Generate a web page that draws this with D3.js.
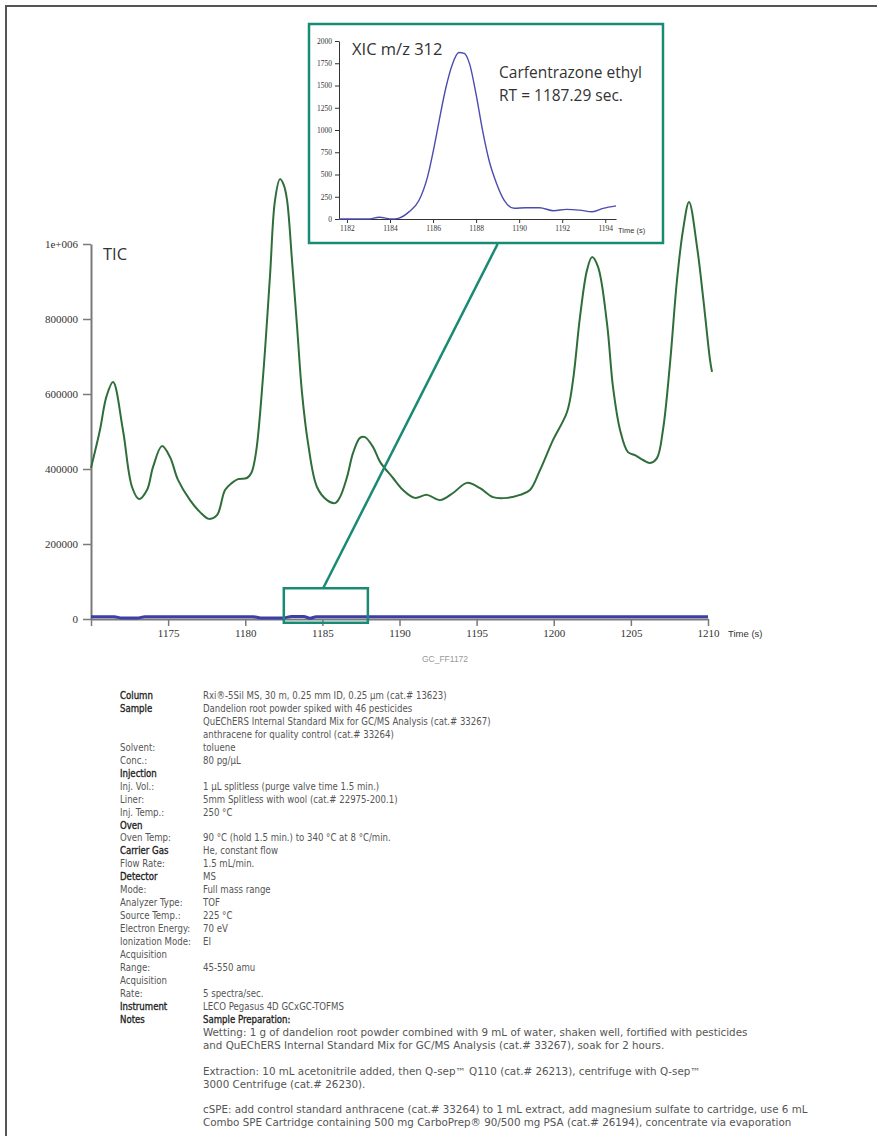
<!DOCTYPE html>
<html lang="en">
<head>
<meta charset="utf-8">
<title>TIC and XIC m/z 312 - Carfentrazone ethyl</title>
<style>
  body { margin: 0; background: #fff; }
  svg { display: block; }
  .tick text { font-family: "Liberation Serif", serif; fill: #333; }
  .note { font-family: "Liberation Sans Narrow", "DejaVu Sans Condensed", sans-serif; font-size: 10px; }
</style>
</head>
<body>
<div id="chart"></div>
<script src="https://d3js.org/d3.v7.min.js"></script>
<script>
var w = 877, h = 1136;

// TIC trace (green)
var ticTime = [1170.0, 1170.58, 1171.0, 1171.43, 1172.07, 1172.66, 1173.11, 1173.63, 1174.02, 1174.6,
  1175.12, 1175.64, 1176.42, 1177.07, 1177.65, 1178.17, 1178.69, 1179.14, 1179.53, 1180.11, 1180.4,
  1180.7, 1181.15, 1181.6, 1181.93, 1182.25, 1182.5, 1182.71, 1183.03, 1183.36, 1183.68, 1184.07,
  1184.65, 1185.3, 1185.82, 1186.14, 1186.6, 1186.99, 1187.44, 1187.76, 1188.28, 1188.74, 1189.58,
  1190.23, 1191.0, 1191.78, 1192.63, 1193.47, 1194.38, 1195.22, 1196.06, 1196.97, 1197.81, 1198.46,
  1199.11, 1199.95, 1200.86, 1201.25, 1201.7, 1202.16, 1202.48, 1202.87, 1203.45, 1203.84, 1204.3,
  1204.81, 1205.27, 1205.79, 1206.24, 1206.69, 1207.08, 1207.54, 1207.99, 1208.38, 1208.77, 1209.29,
  1209.68, 1210.13, 1210.26];
var ticValue = [403000, 504000, 593000, 632000, 504000, 352000, 320000, 344000, 405000, 461000,
  432000, 371000, 317000, 285000, 267000, 277000, 344000, 363000, 373000, 376000, 390000,
  445000, 645000, 912000, 1117000, 1173000, 1157000, 1117000, 957000, 779000, 603000, 469000,
  352000, 317000, 309000, 325000, 379000, 443000, 483000, 485000, 459000, 419000, 376000,
  344000, 323000, 331000, 317000, 336000, 363000, 349000, 325000, 323000, 331000, 344000,
  397000, 477000, 552000, 637000, 805000, 931000, 965000, 939000, 789000, 619000, 504000,
  445000, 437000, 424000, 416000, 429000, 504000, 683000, 904000, 1037000, 1112000, 992000,
  859000, 691000, 659000];

// XIC trace on the TIC scale (blue, near zero)
var baseTime = [1170, 1171.5, 1172, 1173, 1173.5, 1180.5, 1181, 1182.5, 1183, 1183.8, 1184.2, 1184.6, 1210];
var baseValue = [6000, 6000, 2500, 2500, 6000, 6000, 3000, 3000, 7000, 7000, 2000, 6000, 6000];

// XIC m/z 312 inset
var xicTime = [1181.63, 1183.0, 1183.5, 1184.1, 1184.42, 1184.88, 1185.35, 1185.74, 1186.05, 1186.28,
  1186.6, 1186.9, 1187.2, 1187.45, 1187.7, 1188.0, 1188.3, 1188.6, 1188.95, 1189.3, 1189.77,
  1190.3, 1190.95, 1191.6, 1192.2, 1192.8, 1193.4, 1193.9, 1194.5];
var xicValue = [0, 0, 20, 0, 10, 80, 210, 470, 810, 1100,
  1480, 1740, 1870, 1860, 1740, 1400, 995, 660, 400, 212, 120,
  126, 126, 93, 108, 100, 82, 120, 148];

var mainXTicks = [1170, 1175, 1180, 1185, 1190, 1195, 1200, 1205, 1210];
var mainYTicks = [0, 200000, 400000, 600000, 800000, 1000000];
var xicXTicks = [1182, 1184, 1186, 1188, 1190, 1192, 1194];
var xicYTicks = [0, 250, 500, 750, 1000, 1250, 1500, 1750, 2000];

// zoomed window shown on the TIC (time range, signal range)
var zoomTime = [1182.5, 1187.95];
var zoomValue = [-10000, 82000];

// label, value, kind (1 = heading label, 2 = heading label and value)
var methodRows = [
  ["Column", "Rxi\u00AE-5Sil MS, 30 m, 0.25 mm ID, 0.25 \u00B5m (cat.# 13623)", 1],
  ["Sample", "Dandelion root powder spiked with 46 pesticides", 1],
  ["", "QuEChERS Internal Standard Mix for GC/MS Analysis (cat.# 33267)", 0],
  ["", "anthracene for quality control (cat.# 33264)", 0],
  ["Solvent:", "toluene", 0],
  ["Conc.:", "80 pg/\u00B5L", 0],
  ["Injection", "", 1],
  ["Inj. Vol.:", "1 \u00B5L splitless (purge valve time 1.5 min.)", 0],
  ["Liner:", "5mm Splitless with wool (cat.# 22975-200.1)", 0],
  ["Inj. Temp.:", "250 \u00B0C", 0],
  ["Oven", "", 1],
  ["Oven Temp:", "90 \u00B0C (hold 1.5 min.) to 340 \u00B0C at 8 \u00B0C/min.", 0],
  ["Carrier Gas", "He, constant flow", 1],
  ["Flow Rate:", "1.5 mL/min.", 0],
  ["Detector", "MS", 1],
  ["Mode:", "Full mass range", 0],
  ["Analyzer Type:", "TOF", 0],
  ["Source Temp.:", "225 \u00B0C", 0],
  ["Electron Energy:", "70 eV", 0],
  ["Ionization Mode:", "EI", 0],
  ["Acquisition", "", 0],
  ["Range:", "45-550 amu", 0],
  ["Acquisition", "", 0],
  ["Rate:", "5 spectra/sec.", 0],
  ["Instrument", "LECO Pegasus 4D GCxGC-TOFMS", 1],
  ["Notes", "Sample Preparation:", 2]
];
var prepLines = [
  "Wetting: 1 g of dandelion root powder combined with 9 mL of water, shaken well, fortified with pesticides",
  "and QuEChERS Internal Standard Mix for GC/MS Analysis (cat.# 33267), soak for 2 hours.",
  "",
  "Extraction: 10 mL acetonitrile added, then Q-sep\u2122 Q110 (cat.# 26213), centrifuge with Q-sep\u2122",
  "3000 Centrifuge (cat.# 26230).",
  "",
  "cSPE: add control standard anthracene (cat.# 33264) to 1 mL extract, add magnesium sulfate to cartridge, use 6 mL",
  "Combo SPE Cartridge containing 500 mg CarboPrep\u00AE 90/500 mg PSA (cat.# 26194), concentrate via evaporation"
];

var teal = '#198a74';
var green = '#2f6e3a';
var blue = '#3d3fa6';

var svg = d3.select('#chart').append('svg')
  .attr('width', w).attr('height', h);

// page frame (top and left)
svg.append('path')
  .attr('d', 'M6,' + h + 'V6H' + w)
  .attr('fill', 'none').attr('stroke', '#555').attr('stroke-width', 2);

// ---------- main TIC chart ----------
var xScale = d3.scaleLinear().domain([1170, 1210]).range([91, 708]);
var yScale = d3.scaleLinear().domain([0, 1000000]).range([619, 244]);

var yAxis = d3.axisLeft(yScale).tickValues(mainYTicks).tickSize(8).tickSizeOuter(0)
  .tickFormat(d => d === 1000000 ? '1e+006' : d3.format('d')(d));
var xAxis = d3.axisBottom(xScale).tickValues(mainXTicks).tickSize(7).tickSizeOuter(0)
  .tickFormat(d => d === 1170 ? '' : d);

var gy = svg.append('g').attr('transform', 'translate(91,0)').call(yAxis);
var gx = svg.append('g').attr('transform', 'translate(0,619)').call(xAxis);
[gx, gy].forEach(g => {
  g.selectAll('path.domain').attr('stroke', '#7a7a7a').attr('stroke-width', 2);
  g.selectAll('.tick line').attr('stroke', '#7a7a7a').attr('stroke-width', 1.5);
  g.selectAll('.tick text').style('font-size', '11px');
});
gy.selectAll('.tick text').attr('x', -13);
gx.selectAll('.tick text').attr('y', 10);

svg.append('text').attr('x', 728).attr('y', 637)
  .style('font-family', '"Liberation Sans Narrow", sans-serif').style('font-size', '9.5px')
  .attr('fill', '#333').text('Time (s)');

svg.append('text').attr('x', 103).attr('y', 260)
  .style('font-family', '"Open Sans", sans-serif').style('font-size', '16.5px')
  .attr('fill', '#333').text('TIC');

var mainLine = d3.line().x(d => xScale(d[0])).y(d => yScale(d[1])).curve(d3.curveCatmullRom.alpha(0.5));

svg.append('path')
  .datum(d3.zip(baseTime, baseValue))
  .attr('d', d3.line().x(d => xScale(d[0])).y(d => yScale(d[1])).curve(d3.curveMonotoneX))
  .attr('fill', 'none')
  .attr('stroke', blue).attr('stroke-width', 3);

svg.append('path')
  .datum(d3.zip(ticTime, ticValue))
  .attr('d', mainLine).attr('fill', 'none')
  .attr('stroke', green).attr('stroke-width', 2);

svg.append('text').attr('x', 445).attr('y', 662).attr('text-anchor', 'middle')
  .style('font-family', '"Liberation Sans Narrow", sans-serif').style('font-size', '8.5px')
  .attr('fill', '#999').text('GC_FF1172');

// ---------- inset XIC ----------
var ix = d3.scaleLinear().domain([1181.63, 1194.5]).range([339, 616]);
var iy = d3.scaleLinear().domain([0, 2000]).range([219, 41]);

// zoom window and connector
svg.append('rect')
  .attr('x', xScale(zoomTime[0])).attr('y', yScale(zoomValue[1]))
  .attr('width', xScale(zoomTime[1]) - xScale(zoomTime[0]))
  .attr('height', yScale(zoomValue[0]) - yScale(zoomValue[1]))
  .attr('fill', 'none').attr('stroke', teal).attr('stroke-width', 2.5);

svg.append('line')
  .attr('x1', ix(1189)).attr('y1', 244)
  .attr('x2', xScale(1185.05)).attr('y2', yScale(zoomValue[1]))
  .attr('stroke', teal).attr('stroke-width', 2.5);

svg.append('rect')
  .attr('x', 309).attr('y', 24).attr('width', 354).attr('height', 219)
  .attr('fill', '#fff').attr('stroke', teal).attr('stroke-width', 2.5);

var igy = svg.append('g').attr('transform', 'translate(339,0)')
  .call(d3.axisLeft(iy).tickValues(xicYTicks).tickSize(4).tickSizeOuter(0).tickFormat(d3.format('d')));
var igx = svg.append('g').attr('transform', 'translate(0,219)')
  .call(d3.axisBottom(ix).tickValues(xicXTicks).tickSize(4).tickSizeOuter(0).tickFormat(d3.format('d')));
[igx, igy].forEach(g => {
  g.selectAll('path.domain').attr('stroke', '#333').attr('stroke-width', 1);
  g.selectAll('.tick line').attr('stroke', '#333');
  g.selectAll('.tick text').style('font-size', '7.5px');
});
igy.selectAll('.tick text').attr('x', -7);
igx.selectAll('.tick text').attr('y', 7);

svg.append('text').attr('x', 618).attr('y', 233)
  .style('font-family', '"Liberation Sans Narrow", sans-serif').style('font-size', '7.5px')
  .attr('fill', '#333').text('Time (s)');

svg.append('path')
  .datum(d3.zip(xicTime, xicValue))
  .attr('d', d3.line().x(d => ix(d[0])).y(d => iy(d[1])).curve(d3.curveMonotoneX))
  .attr('fill', 'none').attr('stroke', '#4a4cb0').attr('stroke-width', 1.4);

var insetFont = '"Open Sans", sans-serif';
svg.append('text').attr('x', 352).attr('y', 55)
  .style('font-family', insetFont).style('font-size', '16.5px').attr('fill', '#333')
  .text('XIC m/z 312');
svg.append('text').attr('x', 499).attr('y', 78)
  .style('font-family', insetFont).style('font-size', '15.5px').attr('fill', '#333')
  .text('Carfentrazone ethyl');
svg.append('text').attr('x', 499).attr('y', 101)
  .style('font-family', insetFont).style('font-size', '15.5px').attr('fill', '#333')
  .text('RT = 1187.29 sec.');

// ---------- method conditions ----------
var notes = svg.append('g').attr('class', 'note');
var rowH = 12.95, top0 = 699;

var valueText = notes.selectAll('text.val').data(methodRows).join('text')
  .attr('class', 'val')
  .attr('fill', d => d[2] === 2 ? '#222' : '#555')
  .attr('stroke', d => d[2] === 2 ? '#222' : 'none').attr('stroke-width', 0.3)
  .text(d => d[1]);

var prepText = notes.selectAll('text.prep').data(prepLines).join('text')
  .attr('class', 'prep').attr('fill', '#555')
  .text(d => d);

// squeeze text horizontally like the condensed source face
var sxTop = 244 / valueText.nodes()[0].getComputedTextLength();
var sxPrep = 605 / prepText.nodes()[6].getComputedTextLength();

valueText.attr('transform', (d, i) => 'translate(203,' + (top0 + i * rowH) + ') scale(' + sxTop + ',1)');
prepText.attr('transform', (d, i) => 'translate(203,' + (top0 + (i + methodRows.length) * rowH) + ') scale(' + sxPrep + ',1)');

notes.selectAll('text.lab').data(methodRows).join('text')
  .attr('class', 'lab')
  .attr('transform', (d, i) => 'translate(120,' + (top0 + i * rowH) + ') scale(' + sxTop + ',1)')
  .attr('fill', d => d[2] ? '#222' : '#555')
  .attr('stroke', d => d[2] ? '#222' : 'none').attr('stroke-width', 0.3)
  .text(d => d[0]);
</script>
</body>
</html>
